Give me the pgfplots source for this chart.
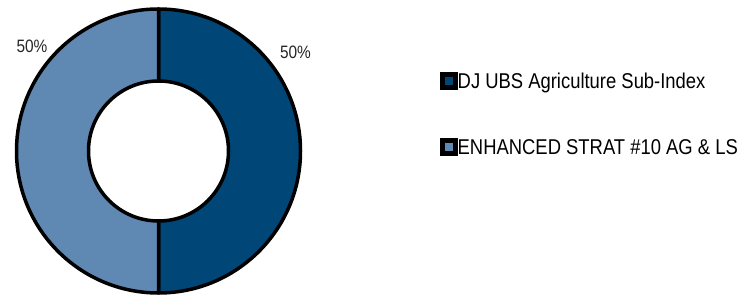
\documentclass[border=0pt]{standalone}
\usepackage{pgfplots}
\pgfplotsset{compat=1.18}
\usepackage{pgfplotstable}
\usepackage{fontspec}
\setmainfont{Liberation Sans}[FakeStretch=0.86]
\definecolor{djdark}{HTML}{004677}
\definecolor{enhlight}{HTML}{5F88B3}

\pgfplotstableread{
name value
DJ 50
ENH 50
}\sharetable
\pgfplotstablegetelem{0}{value}\of\sharetable \let\va\pgfplotsretval
\pgfplotstablegetelem{1}{value}\of\sharetable \let\vb\pgfplotsretval
\pgfmathsetmacro{\fracA}{\va/(\va+\vb)}
\pgfmathsetmacro{\angA}{360*\fracA}
\pgfmathsetmacro{\sA}{90}
\pgfmathsetmacro{\eA}{90-\angA}
\pgfmathsetmacro{\eB}{90-360}

\begin{document}%
\begin{tikzpicture}
\begin{axis}[
  width=745bp, height=295bp, scale only axis,
  xmin=0, xmax=745, ymin=0, ymax=295,
  hide axis, clip=false,
  legend cell align=left,
  legend image code/.code={\draw[#1, line width=5bp] (0bp,-6.5bp) rectangle (13bp,6.5bp);},
  legend style={draw=none, fill=none, inner xsep=0pt, inner ysep=0pt,
    nodes={inner sep=0pt, text depth=0pt},
    at={(axis cs:439.5,181)}, anchor=west,
    row sep=48bp,
    /tikz/every even column/.append style={column sep=5.5bp},
    font=\fontsize{21.5}{24}\selectfont},
]
\addplot[draw=none, forget plot] coordinates {(0,0) (745,295)};
% donut wedges
\begin{scope}[shift={(axis cs:158.5,144)}]
\filldraw[fill=djdark, draw=black, line width=3.5bp, line join=round]
  (\sA:142bp) arc[start angle=\sA, end angle=\eA, radius=142bp]
  -- (\eA:70bp) arc[start angle=\eA, end angle=\sA, radius=70bp] -- cycle;
\filldraw[fill=enhlight, draw=black, line width=3.5bp, line join=round]
  (\eA:142bp) arc[start angle=\eA, end angle=\eB, radius=142bp]
  -- (\eB:70bp) arc[start angle=\eB, end angle=\eA, radius=70bp] -- cycle;
\end{scope}
\node[font=\fontsize{18}{20}\selectfont, text=black!85] at (axis cs:295.5,242.5) {\va\%};
\node[font=\fontsize{18}{20}\selectfont, text=black!85] at (axis cs:32,249) {\vb\%};
\addlegendimage{fill=djdark, draw=black}
\addlegendentry{DJ UBS Agriculture Sub-Index}
\addlegendimage{fill=enhlight, draw=black}
\addlegendentry{ENHANCED STRAT \#10 AG \& LS}
\path (axis cs:0,0) rectangle (axis cs:745,295);
\end{axis}
\end{tikzpicture}%
\end{document}
